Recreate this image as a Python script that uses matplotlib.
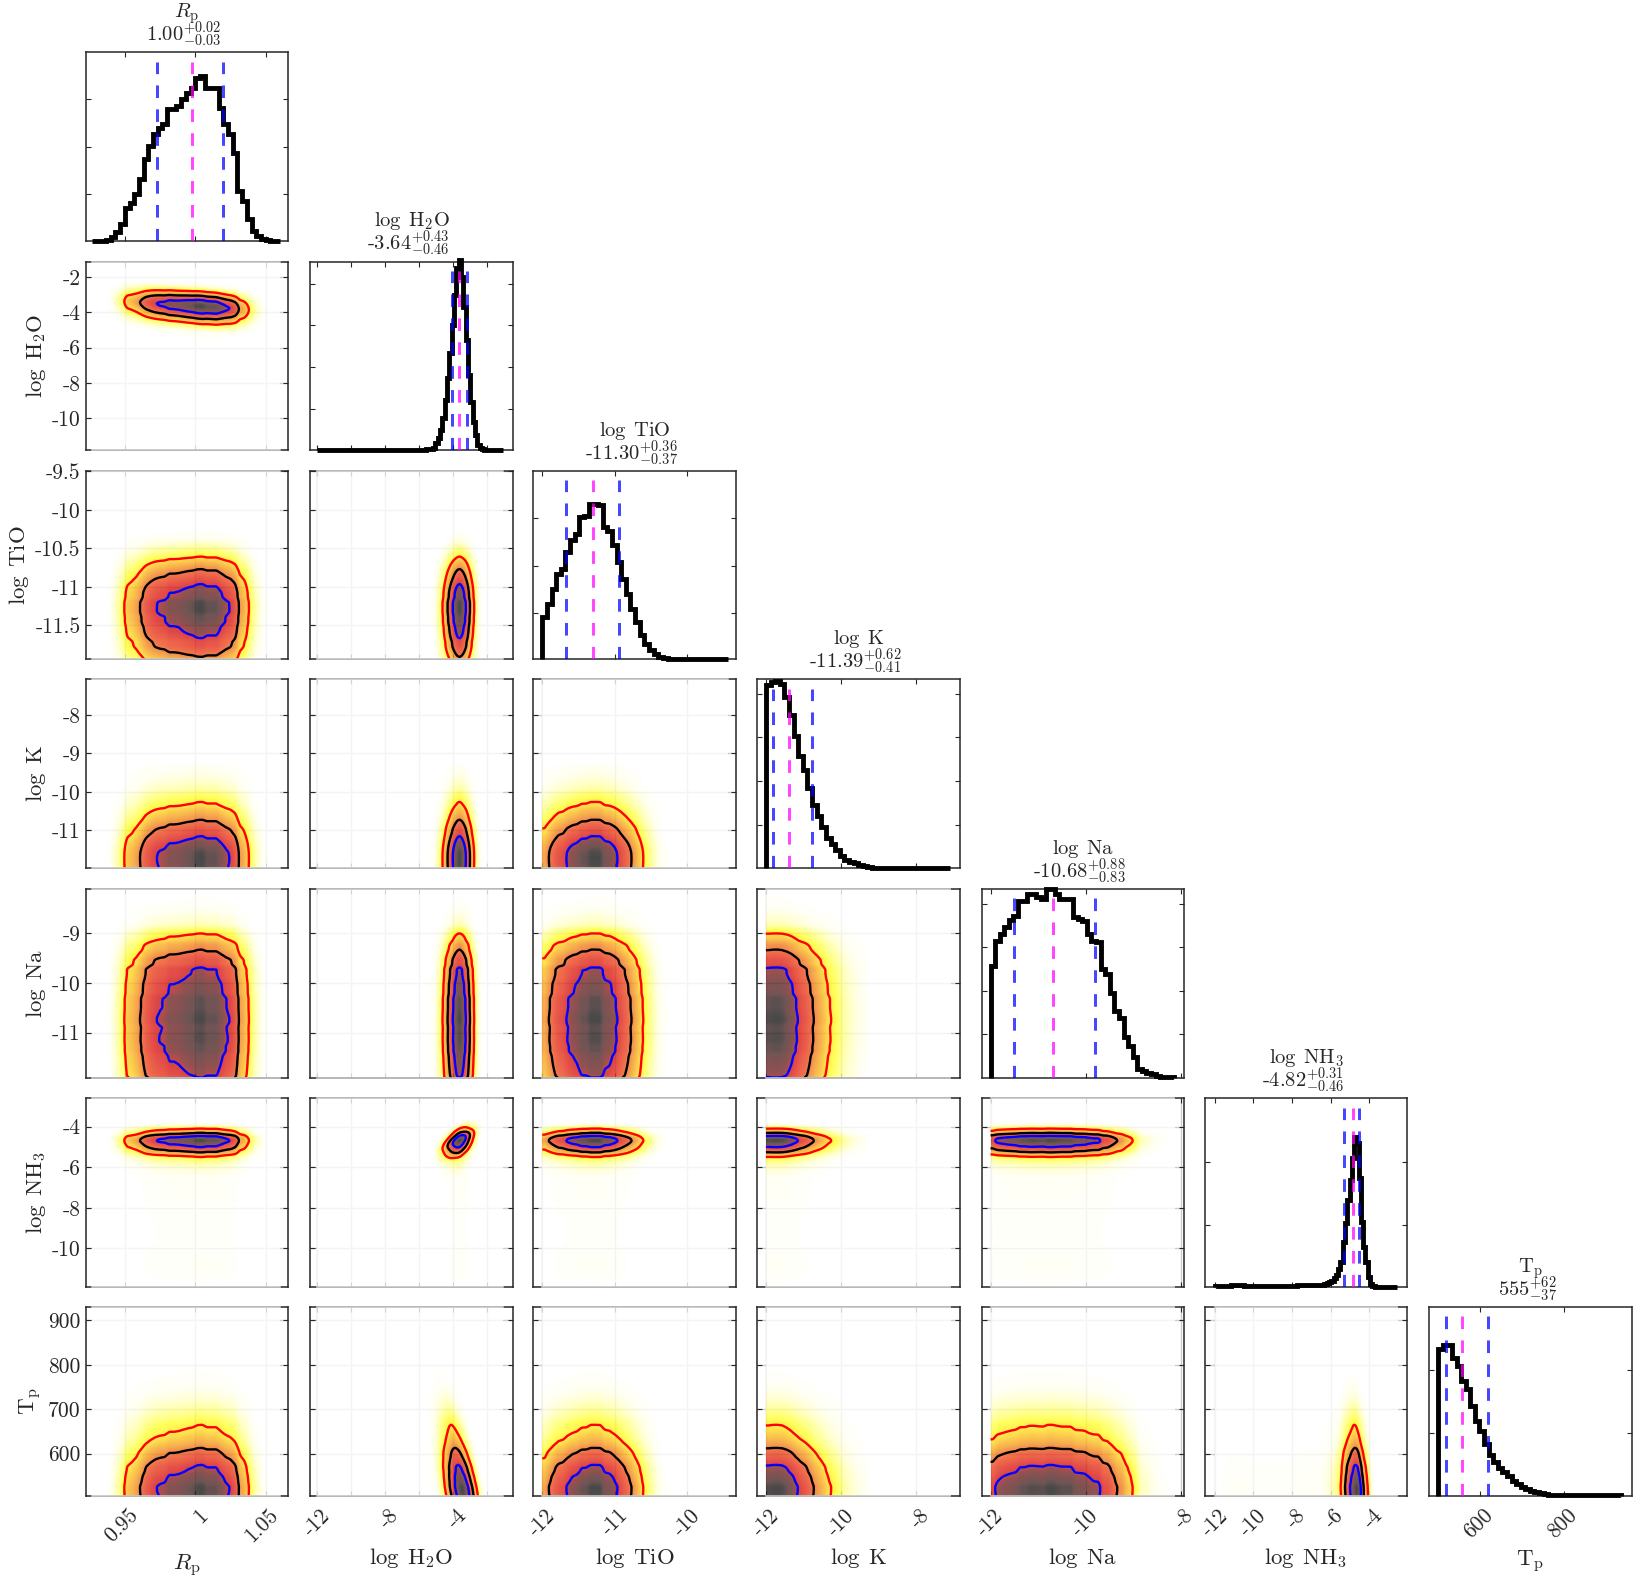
#!/usr/bin/env python3
"""Corner plot of retrieved parameters: 1D posteriors on the diagonal, joint density below."""
import numpy as np
import matplotlib
matplotlib.use('Agg')
import matplotlib.pyplot as plt
from matplotlib.colors import LinearSegmentedColormap
from matplotlib.transforms import ScaledTranslation

plt.rcParams['font.family'] = 'serif'
plt.rcParams['font.serif'] = ['cmr10']
plt.rcParams['mathtext.fontset'] = 'cm'
plt.rcParams['axes.unicode_minus'] = False

names = [r'$R_{\rm p}$', r'$\log\;\mathrm{H_2O}$', r'$\log\;\mathrm{TiO}$', r'$\log\;\mathrm{K}$',
         r'$\log\;\mathrm{Na}$', r'$\log\;\mathrm{NH_3}$', r'$\mathrm{T_p}$']
medians_txt = ['1.00', '-3.64', '-11.30', '-11.39', '-10.68', '-4.82', '555']
upper_txt = ['+0.02', '+0.43', '+0.36', '+0.62', '+0.88', '+0.31', '+62']
lower_txt = ['-0.03', '-0.46', '-0.37', '-0.41', '-0.83', '-0.46', '-37']

q16 = [0.9729, -4.10, -11.67, -11.80, -11.51, -5.28, 518]
q50 = [0.9978, -3.64, -11.30, -11.39, -10.68, -4.82, 555]
q84 = [1.0195, -3.21, -10.94, -10.77, -9.80, -4.51, 617]

# histogram range (bin edges run between these)
hist_lo = [0.9268, -12.0, -12.0, -12.0, -12.0, -12.0, 499]
hist_hi = [1.0599, -1.09, -9.44, -7.08, -8.14, -2.53, 937]

# heights as percent of the panel height
hist_rp = [0, 0, 0, .4, 2, 4.6, 8.8, 17.6, 20.3, 24.7, 32.6, 43.2, 50.3, 56.4, 60, 61.7, 69.7, 69.7, 71.4, 75,
           78.5, 80.8, 86.4, 87.5, 81.1, 81.1, 81.1, 70.5, 61.7, 56.4, 46.7, 26.5, 21.2, 11.5, 5.3, 2.6, .9, .2, 0, 0]
hist_h2o = [0] * 44 + [.1, .2, .2, .4, .5, .7, 1.1, 3.5, 6.2, 10.6, 16.8, 26.5, 38, 51.2, 66.3, 82.2, 96.3, 101,
                       91.9, 76, 58.3, 39.8, 25.6, 15, 8, 2.7, 1.1, .4, 0, 0, 0, 0, 0, 0, 0, 0]
hist_tio = [22.2, 29.3, 37.3, 45.3, 48, 56.8, 63, 66.6, 75.5, 76, 82.2, 82.2, 81.7, 70.2, 67.9, 60.4, 51.5, 42.3,
            34.6, 26.6, 19.5, 12.8, 8, 5, 2.5, 1.1, .5, .2, .2, .1, .1, .1, .1, .1, .1, .1, .1, .1, .1, .1]
hist_k = [97, 98.8, 99.1, 97.4, 90.8, 81.1, 69.7, 59.1, 52, 42.3, 33.5, 27.3, 21.5, 15.9, 12.7, 9.7, 6.2, 4.4,
          3.2, 2.3, 1.6, 1.1, .4, 0, 0, 0, 0, 0, 0, 0, 0, 0, 0, 0, 0, 0, 0, 0, 0, 0]
hist_na = [59.4, 72.2, 76.2, 80.1, 83.3, 85.8, 93.4, 93.4, 97.2, 97.2, 95.7, 94.9, 100.2, 100.2, 97.2, 94.9, 94.9,
           94.7, 85.1, 84.2, 82.8, 76.2, 72.3, 71.8, 57.6, 55, 45, 35.5, 31.4, 21.6, 16.7, 11, 4.6, 3.5, 2.5, 1.6,
           .9, .5, .4, .2]
hist_nh3 = [.3, .3, .3, .4, .5, .6, .6, .7, .7, .7, .7, .7, .7, .6, .6, .6, .6, .5, .5, .5,
            .5, .5, .5, .5, .5, .5, .5, .5, .5, .5, .6, .6, .6, .6, .6, .6, .7, .7, .7, .7,
            .8, .8, .8, .8, .8, .9, .9, 1.2, 1.6, 2.1, 2.7, 3.2, 4.6, 6.5, 9.2, 13.3, 23.9, 33.6, 46, 56.6,
            68.1, 79.6, 76.1, 57.5, 34.5, 21.2, 13.3, 5.3, 1.4, .4, 0, 0, 0, 0, 0, 0, 0, 0, 0, 0]
hist_tp = [77.6, 79.7, 79.9, 73.2, 68.8, 60.8, 56.4, 47.6, 39.7, 34.4, 27.3, 21.5, 17.6, 14.5, 12.3, 10.6, 7.9, 6,
           4.6, 3.4, 2.5, 1.8, 1.2, .9, .5, .4, .3, .2, .1, .1, .1, .1, .1, .1, .1, .1, .1, .1, .1, .1]
hists = [hist_rp, hist_h2o, hist_tio, hist_k, hist_na, hist_nh3, hist_tp]

x_limits = [(0.9222, 1.0658), (-12.38, -0.5), (-12.124, -9.33), (-12.23, -6.83),
            (-12.19, -7.93), (-12.53, -2.03), (477, 961)]
y_limits = [None, (-11.81, -1.11), (-11.94, -9.49), (-11.97, -7.08),
            (-11.9, -8.12), (-11.9, -2.6), (506, 930)]
x_ticks = [[0.95, 1, 1.05], [-12, -10, -8, -6, -4, -2], [-12, -11, -10], [-12, -10, -8],
           [-12, -10, -8], [-12, -10, -8, -6, -4], [600, 800]]
x_ticklabels = [['0.95', '1', '1.05'], ['-12', '', '-8', '', '-4', ''], ['-12', '-11', '-10'], ['-12', '-10', '-8'],
                ['-12', '-10', '-8'], ['-12', '-10', '-8', '-6', '-4'], ['600', '800']]
y_ticks = [None, [-10, -8, -6, -4, -2], [-11.5, -11, -10.5, -10, -9.5], [-11, -10, -9, -8],
           [-11, -10, -9], [-10, -8, -6, -4], [600, 700, 800, 900]]
y_ticklabels = [None, ['-10', '-8', '-6', '-4', '-2'], ['-11.5', '-11', '-10.5', '-10', '-9.5'],
                ['-11', '-10', '-9', '-8'], ['-11', '-10', '-9'], ['-10', '-8', '-6', '-4'],
                ['600', '700', '800', '900']]
# y tick heights on the diagonal panels, percent of panel height
diag_yticks = [[24.9, 49.7, 75.1], [21.8, 44, 66.3, 88], [24.5, 49.7, 75.1], [22.8, 46, 69.3, 92],
               [22.9, 45.7, 69.3, 92], [32.9, 66.4], [33.3, 66.8]]

# correlation seen in a few joint panels (row, col): slope of the ridge
tilt_x = {(6, 1): -0.0045, (6, 5): -0.0007}
tilt_y = {(1, 0): -5.3, (5, 1): 0.4}

contour_levels = [0.14, 0.35, 0.66]
contour_colors = ['#ff0000', '#000000', '#0000ff']

density_cmap = LinearSegmentedColormap.from_list('density', [
    (0.0, '#ffffff'), (0.01, '#fffff0'), (0.05, '#ffff90'), (0.10, '#ffff30'), (0.14, '#ffe820'),
    (0.20, '#fbb820'), (0.30, '#f28020'), (0.40, '#ee4a20'), (0.62, '#d81818'), (0.72, '#7a2525'),
    (0.90, '#4a2a2a'), (1.0, '#1c1c1c')])

TEXT = '#262626'
W, H = 1634, 1580
col_left = [85.5, 310.4, 533.3, 757.3, 981.5, 1204.6, 1429]
row_top = [52.3, 261.5, 470.7, 679.3, 889, 1098.3, 1307]
ax_w, ax_h = 202.5, 188.5


def fine_marginal(i):
    edges = np.linspace(hist_lo[i], hist_hi[i], len(hists[i]) + 1)
    centres = 0.5 * (edges[1:] + edges[:-1])
    grid = np.linspace(hist_lo[i], hist_hi[i], 400)
    vals = np.interp(grid, centres, hists[i])
    kernel = np.array([1, 2, 3, 2, 1]) / 9
    padded = np.pad(vals, 2, mode='edge')
    return grid, np.convolve(padded, kernel, mode='valid')


def style_axes(ax, i_row, i_col):
    ax.tick_params(direction='in', length=3.5, width=0.8, color=TEXT, top=True, right=True,
                   labelsize=15.5, labelcolor=TEXT)
    for spine in ax.spines.values():
        spine.set_color(TEXT)
        spine.set_linewidth(1.1)
    ax.set_xlim(x_limits[i_col])
    ax.set_xticks(x_ticks[i_col])
    if i_row == 6:
        ax.set_xticklabels(x_ticklabels[i_col], rotation=45, ha='right', va='top', rotation_mode='anchor')
        ax.tick_params(axis='x', pad=7)
        nudge = ScaledTranslation(3 / 100, 0, fig.dpi_scale_trans)
        for lab in ax.get_xticklabels():
            lab.set_transform(lab.get_transform() + nudge)
        ax.set_xlabel(names[i_col], fontsize=16.5, color=TEXT, labelpad=5)
    else:
        ax.set_xticklabels([])


fig = plt.figure(figsize=(W / 100, H / 100), dpi=100)

for r in range(7):
    for c in range(r + 1):
        ax = fig.add_axes([col_left[c] / W, 1 - (row_top[r] + ax_h) / H, ax_w / W, ax_h / H])
        style_axes(ax, r, c)

        if r == c:
            edges = np.linspace(hist_lo[c], hist_hi[c], len(hists[c]) + 1)
            ax.stairs(hists[c], edges, color='black', linewidth=3.5, baseline=0, clip_on=False, zorder=3)
            ax.set_ylim(0, 100)
            ax.set_yticks(diag_yticks[c])
            ax.set_yticklabels([])
            for q, col in zip([q16[c], q50[c], q84[c]], ['#0000ff', '#ff00ff', '#0000ff']):
                ax.plot([q, q], [0, 95], color=col, alpha=0.72, linewidth=2.16,
                        dashes=(4.2, 3.77), zorder=4, dash_capstyle='butt')
            ax.annotate(names[c], xy=(0.5, 1), xycoords='axes fraction', xytext=(0, 35),
                        textcoords='offset pixels', ha='center', va='baseline', fontsize=14.8, color=TEXT)
            ax.annotate(f'{medians_txt[c]}$^{{{upper_txt[c]}}}_{{{lower_txt[c]}}}$', xy=(0.5, 1),
                        xycoords='axes fraction', xytext=(-3, 11.5), textcoords='offset pixels',
                        ha='center', va='baseline', fontsize=14.8, color=TEXT)
            continue

        gx, mx = fine_marginal(c)
        gy, my = fine_marginal(r)
        xx, yy = np.meshgrid(gx, gy)
        x_shift = tilt_x.get((r, c), 0) * (yy - q50[r])
        y_shift = tilt_y.get((r, c), 0) * (xx - q50[c])
        dens = np.interp(xx - x_shift, gx, mx) * np.interp(yy - y_shift, gy, my)
        dens = dens / dens.max()

        ax.grid(True, color='#cccccc', linewidth=1)
        ax.set_axisbelow(True)
        ax.imshow(dens, origin='lower', aspect='auto', extent=[gx[0], gx[-1], gy[0], gy[-1]],
                  cmap=density_cmap, vmin=0, vmax=1, interpolation='bilinear', alpha=0.8, zorder=2.6)
        ax.contour(gx, gy, dens, levels=contour_levels, colors=contour_colors, linewidths=1.7, zorder=3)
        ax.set_xlim(x_limits[c])
        ax.set_ylim(y_limits[r])
        ax.set_yticks(y_ticks[r])
        if c == 0:
            ax.set_yticklabels(y_ticklabels[r])
            ax.set_ylabel(names[r], fontsize=16.5, color=TEXT, labelpad=3)
        else:
            ax.set_yticklabels([])
        # the density image washes out the top and bottom frame over its own x range
        trans = ax.get_xaxis_transform()
        for frac in (0, 1):
            ax.plot([gx[0], gx[-1]], [frac, frac], transform=trans, color='#cccccc', linewidth=1.2,
                    clip_on=False, zorder=5)

fig.savefig('out.png', dpi=100, facecolor='white')
